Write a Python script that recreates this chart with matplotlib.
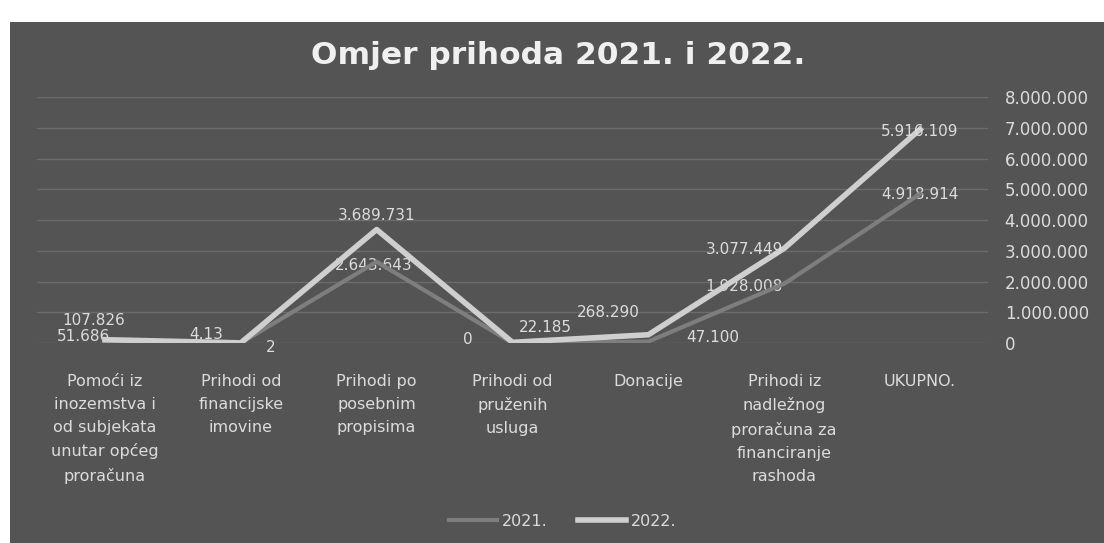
import matplotlib.pyplot as plt
from matplotlib.patches import Rectangle
from matplotlib.ticker import FuncFormatter

categories = ["Pomoći iz\ninozemstva i\nod subjekata\nunutar općeg\nproračuna",
              "Prihodi od\nfinancijske\nimovine",
              "Prihodi po\nposebnim\npropisima",
              "Prihodi od\npruženih\nusluga",
              "Donacije",
              "Prihodi iz\nnadležnog\nproračuna za\nfinanciranje\nrashoda",
              "UKUPNO."]

# values
vals_2021 = [51686, 2, 2643643, 0, 47100, 1928008, 4850000]
vals_2022 = [107826, 4130, 3689731, 22185, 268290, 3077449, 6950000]

# data label texts as printed on the chart
labels_2021 = ["51.686", "2", "2.643.643", "0", "47.100", "1.928.008", "4.918.914"]
labels_2022 = ["107.826", "4.13", "3.689.731", "22.185", "268.290", "3.077.449", "5.916.109"]

# label offsets in pixels (dx, dy) from the point
off_2021 = [(-21, 5), (30, -5), (-3, -4), (-45, 3), (64, 4), (-40, -3), (0, -1)]
off_2022 = [(-11, 19), (-35, 8), (0, 14), (33, 15), (-40, 22), (-40, -1), (0, -2)]

yticks = range(0, 8000001, 1000000)

bg = "#545454"
txt = "#dcdcdc"

fig = plt.figure(figsize=(11.04, 5.43), dpi=100)
fig.patch.set_facecolor("white")
fig.patches.append(Rectangle((10 / 1104, 0), 1, 1 - 22 / 543, transform=fig.transFigure,
                             facecolor=bg, edgecolor="none", zorder=-10))

ax = fig.add_axes([37 / 1104, 1 - 343 / 543, 951 / 1104, 246 / 543])
ax.set_facecolor("none")
x = list(range(len(categories)))

ax.plot(x, vals_2021, color="#7e7e7e", lw=3, label="2021.", zorder=3)
ax.plot(x, vals_2022, color="#cfcfcf", lw=4, label="2022.", zorder=4)

for xi, v, s, (dx, dy) in zip(x, vals_2021, labels_2021, off_2021):
    ax.annotate(s, (xi, v), xytext=(dx * 0.72, dy * 0.72), textcoords="offset points",
                ha="center", va="center", color=txt, fontsize=11, zorder=2)
for xi, v, s, (dx, dy) in zip(x, vals_2022, labels_2022, off_2022):
    ax.annotate(s, (xi, v), xytext=(dx * 0.72, dy * 0.72), textcoords="offset points",
                ha="center", va="center", color=txt, fontsize=11, zorder=5)

ax.set_xlim(-0.5, len(categories) - 0.5)
ax.set_ylim(0, 8000000)
ax.set_yticks(list(yticks))
ax.yaxis.set_major_formatter(FuncFormatter(lambda v, p: f"{int(v):,}".replace(",", ".")))
ax.yaxis.tick_right()
ax.set_xticks(x)
ax.set_xticklabels(categories, fontsize=11.5, color=txt, linespacing=1.67, va="top")
ax.tick_params(axis="x", length=0, pad=22)
ax.tick_params(axis="y", length=0, pad=12, labelsize=12, labelcolor=txt)
ax.grid(axis="y", color="#6c6c6c", lw=1)
for sp in ax.spines.values():
    sp.set_visible(False)

fig.text(0.506, 1 - 55 / 543, "Omjer prihoda 2021. i 2022.", ha="center", va="center",
         fontsize=22.5, color="#f0f0f0", fontweight="bold")

leg = fig.legend(loc="center", bbox_to_anchor=(0.51, 1 - 521 / 543), ncol=2, frameon=False,
                 fontsize=11.5, handlelength=3, columnspacing=1.9, handletextpad=0.3)
for t in leg.get_texts():
    t.set_color(txt)

fig.savefig("out.png", dpi=100, facecolor=fig.get_facecolor())
